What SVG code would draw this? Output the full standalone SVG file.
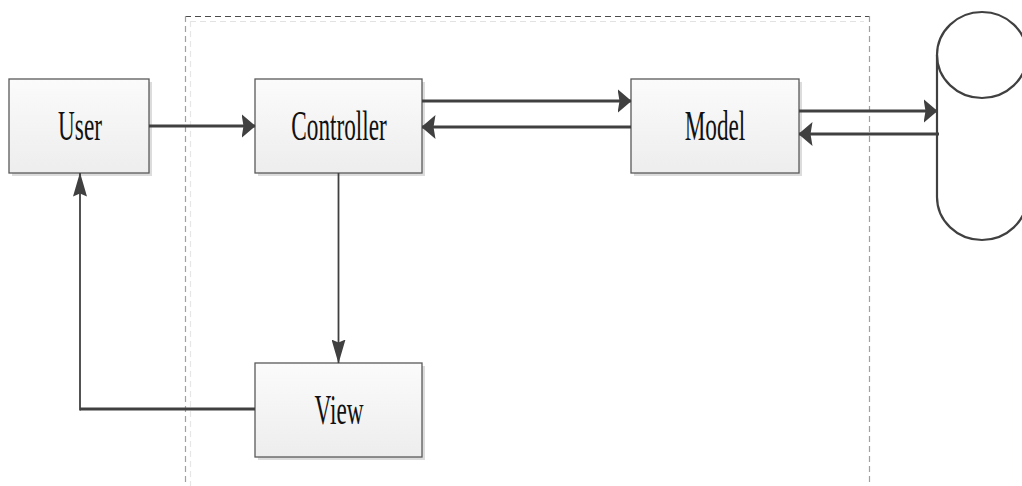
<svg xmlns="http://www.w3.org/2000/svg" width="1022" height="486" viewBox="0 0 1022 486">
  <style>
    .box { fill: url(#boxFill); stroke: #595959; stroke-width: 1.3; }
    .shadow { fill: #dcdcdc; }
    .label { font-family: "Liberation Serif", "Times New Roman", serif; font-size: 43px; fill: #111; text-anchor: middle; }
    .wire { fill: none; stroke: #404040; stroke-width: 3; }
    .thin { fill: none; stroke: #404040; stroke-width: 1.8; }
    .frame { fill: none; stroke-dasharray: 6 4; stroke-width: 1.2; }
  </style>
  <defs>
    <linearGradient id="boxFill" x1="0" y1="0" x2="0" y2="1">
      <stop offset="0" stop-color="#fbfbfb"/>
      <stop offset="1" stop-color="#ededed"/>
    </linearGradient>
    <!-- horizontal heads: short and tall -->
    <marker id="headH" viewBox="0 0 14 24" refX="13.5" refY="12" markerWidth="14" markerHeight="24" markerUnits="userSpaceOnUse" orient="auto">
      <path d="M0,0 L14,12 L0,24 L2,12 Z" fill="#404040"/>
    </marker>
    <!-- vertical heads: long and narrow (drawn pointing along +x, rotated by orient) -->
    <marker id="headV" viewBox="0 0 24 14" refX="23.5" refY="7" markerWidth="24" markerHeight="14" markerUnits="userSpaceOnUse" orient="auto">
      <path d="M0,0 L24,7 L0,14 L3,7 Z" fill="#404040"/>
    </marker>
  </defs>

  <!-- system boundary -->
  <g id="boundary">
    <line class="frame" x1="190" y1="21.5" x2="864" y2="21.5" stroke="#e2e2e2"/>
    <line class="frame" x1="190.5" y1="21" x2="190.5" y2="486" stroke="#e6e6e6"/>
    <line class="frame" x1="185" y1="16.5" x2="869" y2="16.5" stroke="#4a4a4a"/>
    <line class="frame" x1="185.5" y1="16" x2="185.5" y2="486" stroke="#a0a0a0"/>
    <line class="frame" x1="869.5" y1="16" x2="869.5" y2="486" stroke="#a0a0a0"/>
  </g>

  <!-- database -->
  <g id="database" fill="none" stroke="#404040" stroke-width="2.2">
    <path d="M937,55 L937,197 A45,43 0 0 0 1027,197 L1027,55"/>
    <ellipse cx="982" cy="55" rx="45" ry="43"/>
  </g>

  <g id="user">
    <rect class="shadow" x="12" y="82" width="140" height="94"/>
    <rect class="box" x="9" y="79" width="140" height="94"/>
    <text class="label" transform="translate(80,140) scale(0.54,1)">User</text>
  </g>

  <g id="controller">
    <rect class="shadow" x="258" y="82" width="167" height="94"/>
    <rect class="box" x="255" y="79" width="167" height="94"/>
    <text class="label" transform="translate(339,140) scale(0.54,1)">Controller</text>
  </g>

  <g id="model">
    <rect class="shadow" x="634" y="82" width="168" height="94"/>
    <rect class="box" x="631" y="79" width="168" height="94"/>
    <text class="label" transform="translate(715,140) scale(0.54,1)">Model</text>
  </g>

  <g id="view">
    <rect class="shadow" x="258" y="366" width="167" height="94"/>
    <rect class="box" x="255" y="363" width="167" height="94"/>
    <text class="label" transform="translate(339,424) scale(0.54,1)">View</text>
  </g>

  <g id="connectors">
    <line class="wire" x1="149" y1="126" x2="255" y2="126" marker-end="url(#headH)"/>
    <line class="wire" x1="422" y1="101" x2="631" y2="101" marker-end="url(#headH)"/>
    <line class="wire" x1="631" y1="127" x2="422" y2="127" marker-end="url(#headH)"/>
    <line class="wire" x1="799" y1="111" x2="937" y2="111" marker-end="url(#headH)"/>
    <line class="wire" x1="939" y1="134" x2="799" y2="134" marker-end="url(#headH)"/>
    <line class="thin" x1="338.5" y1="173" x2="338.5" y2="363" marker-end="url(#headV)"/>
    <polyline class="wire" points="255,409 80,409" />
    <line class="thin" x1="80" y1="410.5" x2="80" y2="173" marker-end="url(#headV)"/>
  </g>
</svg>
